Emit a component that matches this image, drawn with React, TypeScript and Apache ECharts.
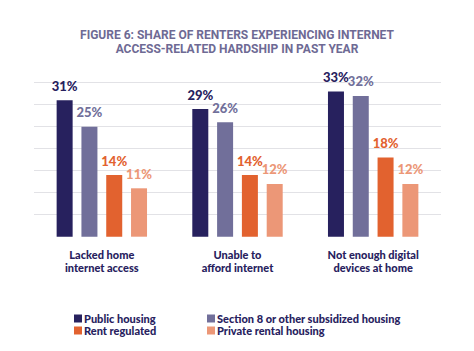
import React, { useEffect, useRef } from "react";
import * as echarts from "echarts";

const categories = ["Lacked home\ninternet access", "Unable to\nafford internet", "Not enough digital\ndevices at home"];
const seriesNames = ["Public housing", "Section 8 or other subsidized housing", "Rent regulated", "Private rental housing"];
const publicHousing = [31, 29, 33];
const section8 = [25, 26, 32];
const rentRegulated = [14, 14, 18];
const privateRental = [11, 12, 12];
const colors = ["#27215e", "#716f9a", "#e2622f", "#ec9777"];
const titleText = "FIGURE 6: SHARE OF RENTERS EXPERIENCING INTERNET\nACCESS-RELATED HARDSHIP IN PAST YEAR";

const FONT = "Lato";

export default function App() {
  const ref = useRef<HTMLDivElement>(null);
  useEffect(() => {
    document.body.style.margin = "0";
    const chart = echarts.init(ref.current!, null, { renderer: "svg" });
    const values = [publicHousing, section8, rentRegulated, privateRental];
    const legendText = { fontFamily: FONT, fontSize: 11, fontWeight: 900, color: "#27215e", padding: [0, 0, 0, -3] };
    chart.setOption({
      animation: false,
      backgroundColor: "#ffffff",
      title: {
        text: titleText,
        left: "center",
        top: 23,
        textStyle: { fontFamily: "Roboto", fontSize: 12, fontWeight: "bold", color: "#6e6a94", lineHeight: 14, align: "center" },
      },
      legend: [
        {
          data: [seriesNames[0], seriesNames[2]],
          orient: "vertical",
          left: 69,
          top: 308,
          itemWidth: 8,
          itemHeight: 8,
          itemGap: 1,
          icon: "rect",
          textStyle: legendText,
        },
        {
          data: [seriesNames[1], seriesNames[3]],
          orient: "vertical",
          left: 202,
          top: 308,
          itemWidth: 8,
          itemHeight: 8,
          itemGap: 1,
          icon: "rect",
          textStyle: legendText,
        },
      ],
      grid: { left: 34, right: 33, top: 82.7, bottom: 114.3 },
      xAxis: {
        type: "category",
        data: categories,
        axisLine: { show: false },
        axisTick: { show: false },
        axisLabel: { fontFamily: FONT, fontSize: 11, fontWeight: 900, color: "#27215e", margin: 12, lineHeight: 12.5 },
      },
      yAxis: {
        type: "value",
        min: 0,
        max: 35,
        interval: 5,
        axisLabel: { show: false },
        axisLine: { show: false },
        axisTick: { show: false },
        splitLine: { show: true, showMinLine: false, lineStyle: { color: "#e2e2e6", width: 1 } },
      },
      series: seriesNames.map((name, i) => ({
        name,
        type: "bar",
        data: values[i],
        barWidth: 16,
        barGap: "55%",
        itemStyle: { color: colors[i] },
        label: {
          show: true,
          position: "top",
          distance: 8,
          formatter: "{c}%",
          fontFamily: FONT,
          fontSize: 13,
          fontWeight: 900,
          color: colors[i],
        },
      })),
    });
    return () => chart.dispose();
  }, []);
  return <div ref={ref} style={{ position: "absolute", left: 0, top: 0, width: 474, height: 351 }} />;
}
